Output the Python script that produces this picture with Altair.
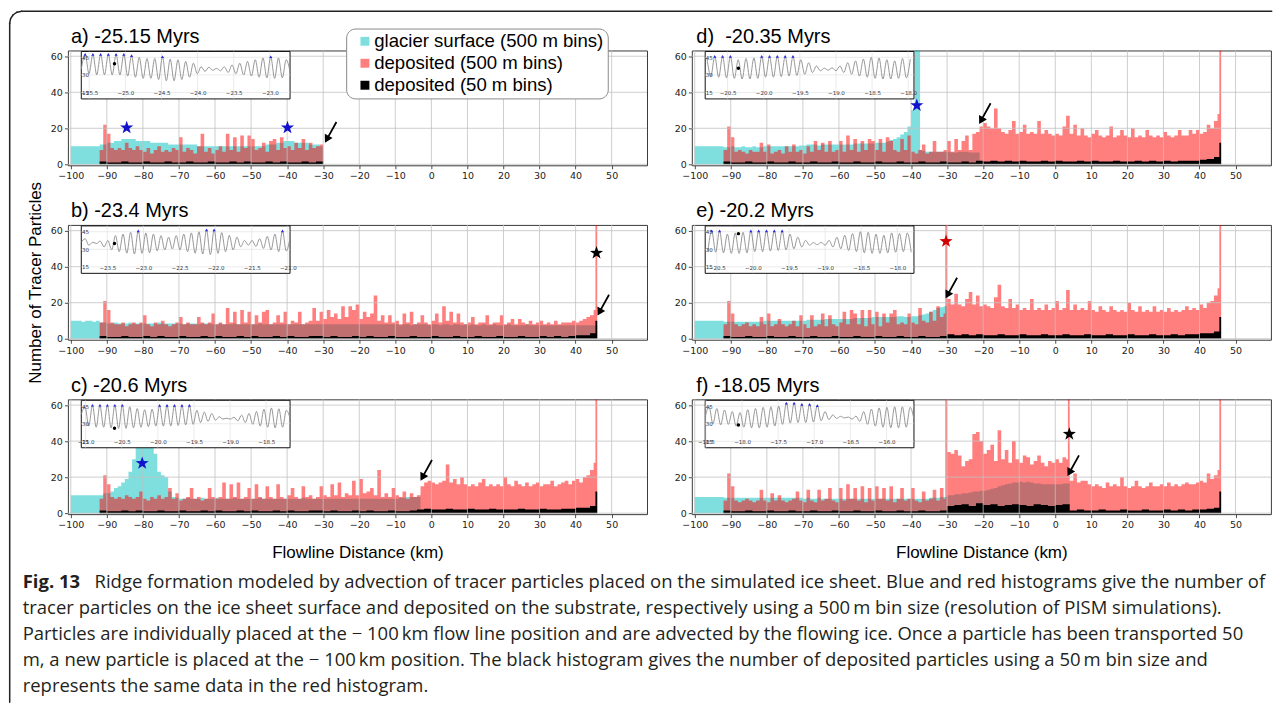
import math
import altair as alt
import pandas as pd

# ---------------------------------------------------------------- data
PANEL_LABELS = ["a) -25.15 Myrs", "b) -23.4 Myrs", "c) -20.6 Myrs",
                "d)\u00a0 -20.35 Myrs", "e) -20.2 Myrs", "f) -18.05 Myrs"]
PANEL_TIMES = [-25.15, -23.4, -20.6, -20.35, -20.2, -18.05]
SERIES = ["glacier surface (500 m bins)", "deposited (500 m bins)", "deposited (50 m bins)"]
DIST_TICKS = [-100, -90, -80, -70, -60, -50, -40, -30, -20, -10, 0, 10, 20, 30, 40, 50]
COUNT_TICKS = [0, 20, 40, 60]
INSET_Y_TICKS = [15, 30, 45]
INSET_TICKS = [
    [-25.5, -25.0, -24.5, -24.0, -23.5, -23.0],
    [-23.5, -23.0, -22.5, -22.0, -21.5, -21.0],
    [-21.0, -20.5, -20.0, -19.5, -19.0, -18.5],
    [-20.5, -20.0, -19.5, -19.0, -18.5, -18.0],
    [-20.5, -20.0, -19.5, -19.0, -18.5, -18.0],
    [-18.5, -18.0, -17.5, -17.0, -16.5, -16.0],
]

# glacier surface particles, 1 km bins starting at -100 km
surface_a = [10, 10, 10, 10, 10, 10, 10, 10,
             11, 11, 12, 12, 13, 13, 14, 14, 14, 14,
             13, 13, 13, 13, 12, 12, 12, 12, 12, 11,
             11, 11, 11, 11, 11, 11, 11, 10, 10, 10,
             10, 10, 10, 10, 10, 10, 10, 10, 10, 10,
             10, 10, 10, 10, 10, 10, 11, 11, 11, 12,
             12, 13, 13, 13, 12, 12, 12, 12, 11, 11, 11, 10]
surface_b = [10, 10, 10, 9.5, 10, 10, 9.5, 10,
             9, 9, 8.5, 8.5, 9, 8.5, 8.5, 8.5, 9, 8.5,
             8.5, 8.5, 8.5, 8.5, 8.5, 8.5, 9, 8.5, 8.5, 8.5,
             8.5, 8.5, 8.5, 8, 8.5, 8.5, 8.5, 8, 8.5, 8.5,
             8.5, 8, 8, 8.5, 8, 8, 8, 8.5, 8, 8,
             8, 8, 8, 8, 8.5, 8, 8, 8, 8, 8,
             8, 8, 8, 8, 8, 8, 8, 8, 8, 8,
             8, 8, 8, 8, 8, 8, 8, 8, 8, 8,
             8, 8, 8, 8, 8, 8, 8, 8, 8, 8,
             8, 8, 8, 7.5, 8, 8, 7.5, 8, 8, 8,
             8, 7.5, 8, 8, 7.5, 8, 8, 7.5, 8, 8,
             7.5, 8, 7.5, 8, 7.5, 7.5, 8, 7.5, 7.5, 8,
             7.5, 7.5, 7.5, 8, 7.5, 7.5, 7.5, 7.5, 8, 7.5,
             7.5, 7.5, 7.5, 7.5, 7.5, 7.5, 7.5, 7.5, 7.5, 7.5,
             7.5, 7.5, 7.5, 7.5, 7.5, 7.5, 7.5, 7.5]
surface_c = [10, 10, 10, 10, 10, 10, 10, 10,
             10, 11, 11, 12, 14, 15, 17, 19, 23, 30,
             38, 44, 48, 46, 40, 33, 23, 21, 20, 12,
             9, 8.5, 8, 8, 8.5, 8, 8, 8, 8.5, 8,
             8, 8, 8.5, 8, 8, 8, 8, 8.5, 8, 8,
             8, 8, 8, 8, 8.5, 8, 8, 8, 8, 8,
             8, 8, 8, 8, 8, 8, 8.5, 8, 8, 8,
             8, 8, 8, 8, 8, 8, 8, 8, 8, 8,
             8, 8, 8, 8, 8, 8, 8, 8, 8, 8,
             8, 8, 8, 8.5, 8.5, 9, 9, 9, 9]
surface_d = [10, 10, 10, 10, 10, 10, 10, 10,
             9.5, 9.5, 10, 9.5, 9.5, 10, 9.5, 9.5, 10, 9.5,
             9.5, 10, 10, 10, 10, 10, 10, 10, 10, 10,
             10, 10.5, 10.5, 11, 11, 11, 10.5, 11, 11, 11,
             11, 11, 11, 11, 11, 11, 11.5, 11.5, 11.5, 11.5,
             11.5, 11.5, 12, 12, 12, 12.5, 13.5, 14, 15, 16.5,
             18, 21, 30, 70, 8, 7.5, 7, 7, 7, 7,
             7, 7, 7, 6.5, 6.5, 7, 7, 7, 6.5, 6.5, 6.5]
surface_e = [10, 10, 10, 10, 10, 10, 10, 10,
             9.5, 9.5, 9.5, 9.5, 9.5, 9.5, 9.5, 9.5, 9.5, 9.5,
             9.5, 10, 10, 10, 10, 10, 10, 10, 10, 10,
             10, 10, 10, 10.5, 10.5, 10.5, 10.5, 10.5, 11, 11,
             11, 11, 11, 11, 11, 11, 11.5, 11.5, 11.5, 11.5,
             11.5, 12, 12, 12, 12, 12, 12, 12, 12.5, 12.5,
             12, 12, 12.5, 12.5, 13, 13.5, 14, 15, 16, 17, 17.5, 18]
surface_f = [9, 9, 9, 9, 9, 9, 9, 9,
             8.5, 8.5, 8.5, 8.5, 8.5, 8.5, 8.5, 8.5, 8.5, 8.5,
             8.5, 8.5, 8.5, 8.5, 8.5, 8.5, 8.5, 8.5, 8.5, 8.5,
             8.5, 8.5, 8, 8.5, 8, 8, 8.5, 8, 8, 8,
             8, 8, 8, 8, 8, 8, 8, 8, 8, 8,
             8, 8, 8, 8, 8, 8, 8, 8, 8, 8,
             8, 8, 8, 8, 8, 8, 8, 8.5, 8.5, 8.5, 9, 9,
             10, 10, 10.5, 10.5, 11, 11, 11.5, 12, 12, 12.5,
             12.5, 13, 13.5, 14, 15, 15.5, 16, 16.5, 17, 17,
             17.5, 17, 17.5, 17, 16.5, 16.5, 16, 16, 16, 16,
             16, 16, 16.5, 16.5]

# deposited particles, 1 km bins starting at -92 km
deposit_a = [8, 22, 17, 9, 8, 9, 8, 12, 9, 8,
             10, 8, 7, 9, 6, 8, 10, 7, 8, 7,
             9, 8, 15, 7, 9, 8, 6, 10, 17, 7,
             9, 6, 8, 10, 7, 17, 8, 15, 7, 16,
             9, 16, 14, 8, 9, 12, 7, 13, 14, 8,
             15, 9, 10, 8, 12, 9, 14, 8, 12, 9,
             10, 11]
deposit_b = [9, 21, 16, 9, 8, 8, 9, 7, 8, 9,
             8, 9, 13, 8, 7, 9, 8, 10, 8, 7,
             8, 9, 12, 8, 9, 8, 8, 12, 9, 8,
             9, 14, 8, 9, 8, 17, 9, 15, 8, 16,
             9, 15, 8, 13, 9, 15, 16, 8, 9, 13,
             9, 15, 8, 10, 9, 15, 8, 9, 10, 17,
             10, 15, 11, 16, 12, 14, 11, 18, 12, 18,
             16, 19, 11, 15, 12, 14, 24, 10, 13, 9,
             13, 9, 10, 8, 14, 9, 15, 8, 9, 13,
             9, 8, 10, 14, 9, 18, 10, 15, 9, 14,
             9, 8, 9, 12, 8, 9, 9, 13, 8, 9,
             9, 13, 8, 9, 11, 8, 11, 9, 8, 10,
             8, 9, 10, 8, 9, 8, 10, 8, 9, 9,
             9, 10, 9, 10, 11, 12, 13, 16]
deposit_c = [8, 21, 16, 9, 8, 9, 8, 10, 9, 8,
             9, 12, 8, 7, 9, 8, 10, 8, 9, 14,
             8, 11, 7, 8, 9, 14, 8, 9, 7, 8,
             14, 9, 8, 9, 17, 8, 16, 9, 17, 8,
             9, 14, 8, 16, 9, 8, 15, 9, 8, 16,
             9, 8, 10, 14, 9, 8, 15, 9, 10, 8,
             9, 15, 10, 9, 16, 10, 17, 9, 11, 10,
             18, 10, 19, 11, 12, 14, 10, 24, 9, 11,
             9, 14, 10, 9, 12, 8, 11, 9, 10, 15,
             17, 18, 17, 16, 17, 18, 27, 17, 19, 16,
             20, 16, 15, 16, 15, 17, 19, 15, 16, 15,
             16, 15, 20, 16, 15, 18, 16, 15, 17, 15,
             16, 17, 15, 16, 16, 18, 15, 16, 17, 18,
             16, 18, 19, 17, 20, 21, 24, 28]
deposit_d = [8, 21, 15, 7, 8, 7, 6, 8, 7, 7,
             12, 7, 11, 6, 7, 8, 6, 10, 7, 11,
             7, 8, 6, 10, 7, 13, 8, 12, 7, 13,
             7, 8, 13, 7, 16, 8, 14, 7, 13, 8,
             14, 13, 8, 14, 7, 15, 13, 8, 7, 14,
             8, 16, 7, 6, 8, 11, 6, 7, 13, 7,
             7, 8, 13, 7, 14, 8, 13, 16, 8, 17,
             18, 21, 23, 21, 20, 31, 20, 18, 17, 19,
             24, 17, 18, 22, 17, 18, 17, 24, 17, 19,
             17, 16, 17, 16, 21, 27, 17, 22, 16, 20,
             16, 15, 17, 19, 16, 15, 16, 21, 15, 16,
             19, 16, 15, 20, 15, 16, 15, 19, 16, 15,
             16, 15, 18, 16, 15, 16, 19, 16, 16, 19,
             17, 19, 17, 18, 22, 20, 24, 28]
deposit_e = [8, 21, 14, 8, 7, 8, 9, 7, 8, 7,
             12, 8, 14, 7, 8, 11, 8, 7, 8, 10,
             7, 13, 8, 6, 13, 7, 8, 14, 7, 13,
             8, 7, 9, 15, 8, 16, 14, 8, 16, 7,
             16, 8, 15, 7, 14, 9, 14, 16, 8, 9,
             8, 14, 9, 8, 17, 10, 9, 15, 10, 18,
             12, 14, 22, 19, 25, 19, 18, 22, 26, 19,
             24, 18, 19, 18, 17, 23, 30, 18, 17, 22,
             17, 19, 16, 17, 16, 22, 16, 17, 16, 19,
             16, 17, 21, 16, 17, 27, 16, 19, 16, 17,
             16, 21, 16, 15, 18, 16, 15, 18, 16, 15,
             16, 15, 20, 16, 15, 18, 15, 16, 15, 18,
             15, 16, 15, 17, 15, 16, 15, 16, 18, 16,
             17, 16, 19, 17, 20, 21, 24, 28]
deposit_f = [7, 22, 15, 7, 6, 7, 8, 7, 6, 7,
             13, 7, 6, 11, 7, 10, 7, 6, 7, 8,
             12, 7, 6, 13, 7, 6, 13, 7, 8, 14,
             7, 6, 14, 7, 16, 8, 14, 7, 15, 6,
             14, 7, 15, 8, 14, 7, 15, 6, 8, 14,
             7, 8, 14, 7, 6, 12, 7, 8, 13, 7,
             14, 8, 34, 33, 35, 32, 26, 29, 30, 44,
             45, 40, 33, 35, 38, 29, 46, 30, 35, 28,
             40, 30, 28, 32, 31, 27, 29, 32, 28, 26,
             29, 28, 30, 28, 31, 30, 18, 22, 17, 18,
             18, 16, 15, 16, 15, 14, 17, 15, 16, 15,
             20, 15, 14, 15, 18, 15, 14, 15, 17, 15,
             15, 16, 15, 17, 15, 16, 15, 16, 17, 16,
             16, 17, 18, 17, 22, 19, 21, 24]

# deposited particles (fine bins), summarised in 2 km steps from -92 km
fine_a = [1.5, 1, 1, 1.5, 1, 1, 1.5, 1, 1, 1.5, 1, 1, 1.5, 1, 1, 1.5,
          1, 1, 1.5, 1, 1.5, 1, 1, 1.5, 1, 1.5, 1, 1, 1.5, 1, 1.5]
fine_b = [1.5, 1, 1, 1.5, 1, 1, 1.5, 1, 1.5, 1,
          1, 1.5, 1, 1, 1.5, 1, 1.5, 1, 1, 1.5,
          1, 1.5, 1, 1, 1.5, 1, 1.5, 1, 1, 1.5,
          1.5, 1, 1.5, 1, 1, 1.5, 1, 1.5, 1, 1,
          1.5, 1, 1, 1.5, 1, 1, 1.5, 1, 1, 1.5,
          1, 1, 1.5, 1, 1, 1.5, 1, 1, 1.5, 1,
          1, 1.5, 1, 1.5, 1, 1.5, 2, 2, 3]
fine_c = [1.5, 1, 1, 1.5, 1, 1.5, 1, 1, 1.5, 1,
          1, 1.5, 1, 1, 1.5, 1, 1.5, 1, 1, 1.5,
          1, 1.5, 1, 1, 1.5, 1, 1.5, 1, 1, 1.5,
          1.5, 1, 1.5, 1, 1, 1.5, 1, 1.5, 1, 1,
          1.5, 1, 1, 1.5, 2, 2.5, 2, 2, 2.5, 2,
          2, 2.5, 2, 2, 2.5, 2, 2, 2, 2.5, 2,
          2, 2.5, 2, 2, 2.5, 2.5, 3, 3, 4]
fine_d = [1.5, 1, 1, 1.5, 1, 1, 1.5, 1, 1, 1.5,
          1, 1, 1.5, 1, 1, 1.5, 1, 1, 1.5, 1,
          1, 1.5, 1, 1, 1.5, 1, 1, 1.5, 1, 1,
          1.5, 1, 1, 1.5, 1, 2, 1.5, 2, 1.5, 2,
          1.5, 2, 1.5, 1.5, 2, 1.5, 2, 1.5, 1.5, 2,
          1.5, 2, 1.5, 1.5, 2, 1.5, 1.5, 2, 1.5, 2,
          1.5, 2, 1.5, 2, 2, 2, 2.5, 3, 4]
fine_e = [1.5, 1, 1, 1.5, 1, 1, 1.5, 1, 1, 1.5,
          1, 1, 1.5, 1, 1, 1.5, 1, 1, 1.5, 1,
          1, 1.5, 1, 1, 1.5, 1, 1, 1.5, 1, 1,
          1.5, 2.5, 2, 2.5, 2, 2.5, 2, 2, 2.5, 2,
          2, 2.5, 2, 2, 2.5, 2, 2, 2.5, 2, 2,
          2.5, 2, 2, 2.5, 2, 2, 2.5, 2, 2, 2.5,
          2, 2, 2.5, 2, 2.5, 2.5, 3, 3, 4]
fine_f = [1.5, 1, 1, 1.5, 1, 1, 1.5, 1, 1, 1.5,
          1, 1, 1.5, 1, 1, 1.5, 1, 1, 1.5, 1,
          1, 1.5, 1, 1, 1.5, 1, 1, 1.5, 1, 1,
          1.5, 4, 4.5, 5, 4, 5.5, 4.5, 5, 4, 4.5,
          5, 4.5, 4, 5, 4.5, 4, 4.5, 5, 1.5, 2,
          1.5, 1.5, 2, 1.5, 1.5, 2, 1.5, 1.5, 2, 1.5,
          1.5, 2, 1.5, 2, 1.5, 2, 2, 2.5, 3]

SURFACE = [surface_a, surface_b, surface_c, surface_d, surface_e, surface_f]
DEPOSIT = [deposit_a, deposit_b, deposit_c, deposit_d, deposit_e, deposit_f]
FINE = [fine_a, fine_b, fine_c, fine_d, fine_e, fine_f]

# single 500 m bins that stand out (start km, count)
SPIKES = [
    {},
    {"dep": [(45.5, 70)], "fine": [(45.5, 10)]},
    {"dep": [(45.5, 70)], "fine": [(45.5, 12)]},
    {"surf": [(-38.0, 70)], "dep": [(45.5, 70)], "fine": [(45.5, 12)]},
    {"dep": [(-30.5, 70), (45.5, 70)], "fine": [(45.5, 12)]},
    {"dep": [(-30.5, 70), (3.5, 70), (45.5, 70)], "fine": [(45.5, 12)]},
]

STAR_BLUE, STAR_RED, STAR_BLACK = "#1212cc", "#d00000", "#000000"
STARS = [
    [(-84.5, 20.3, STAR_BLUE), (-39.9, 20.3, STAR_BLUE)],
    [(45.8, 47.6, STAR_BLACK)],
    [(-80.2, 27.7, STAR_BLUE)],
    [(-38.4, 32.7, STAR_BLUE)],
    [(-30.3, 54.1, STAR_RED)],
    [(3.9, 43.9, STAR_BLACK)],
]
ARROWS = [(-27.8, 18.2), (47.8, 19.1), (-1.3, 24.2), (-19.4, 28.6), (-28.7, 28.6), (5.1, 26.8)]

# forcing curve shown in the insets: successive extrema (edge, peak, trough, ...)
inset_a = [35, 47.5, 31, 47.5, 30, 47.5, 30, 47.5, 30, 47.5, 30, 47.5, 29, 46.5, 28, 45, 27, 44,
           27, 44, 26, 45.5, 25, 43.5, 25, 43, 26, 41.5, 28, 40, 31, 37, 33, 36.5, 34, 35.5,
           33.5, 37, 32, 38.5, 31, 40, 30, 41.5, 29, 43, 28, 44.5, 27.5, 45.5, 27, 44.5,
           27.5, 43, 33]
inset_b = [36, 39, 33.5, 36, 35, 37, 32, 37.6, 29.5, 41.7, 28, 43, 26.7, 44.5, 26, 45.8, 26.5,
           44, 27, 43, 28.6, 41.7, 29.5, 40.4, 30.3, 41.7, 29.5, 43, 28, 44, 26.7, 45, 26,
           46.6, 25.4, 46.6, 26.5, 44.3, 28, 42, 29.5, 40.4, 32.2, 37.6, 33.5, 37.6, 32.5, 39,
           30.8, 41, 29.5, 43, 28, 45.8, 28.5, 40]
inset_c = [38, 44.5, 28, 45.8, 27, 45.8, 27, 45.8, 26.5, 45.8, 26, 45.8, 26, 44.5, 26.5, 43,
           27, 42, 27.5, 42.5, 28, 45.6, 28, 45.6, 28, 45.6, 28.5, 45.6, 29, 45.6, 29.5, 41.5,
           31, 40, 32, 38.8, 33, 36, 34, 34.7, 34, 35.5, 32.5, 37.4, 31, 38.8, 29.5, 40.5, 28,
           42.5, 27, 43.5, 26.5, 42.8, 27, 41.5, 35]
inset_de = [38, 44.5, 29, 45.8, 28, 45.8, 27.5, 45.8, 27, 43, 26.5, 44, 26.5, 44.5, 27, 45.8,
            28, 45.8, 28, 45.8, 28.5, 45.8, 29, 45.8, 29.5, 43, 30.5, 40.4, 32, 37.6, 33.5,
            35.7, 34, 36, 33.5, 37.6, 32, 40.4, 30.5, 42, 29, 43.5, 28, 45, 27, 44.5, 26.5, 43,
            26.5, 42, 27, 44, 27.5, 43.5, 28, 44, 27.5, 43, 34]
inset_f = [36, 44.5, 30, 43, 29, 41.7, 29.5, 40.4, 28, 39.5, 27, 42, 26.5, 43, 26.5, 44, 27,
           44.5, 28, 45, 29.5, 47.7, 30.5, 47.7, 31, 46.6, 31, 46.6, 31.5, 45.5, 32.5, 40.4,
           33.5, 37.6, 34.5, 36.3, 35, 35.7, 34, 36.5, 32, 40.4, 29.5, 42.5, 28, 43.5, 27, 44,
           26.5, 44.5, 26.5, 44.5, 27, 44, 34]
INSET_SEQ = [inset_a, inset_b, inset_c, inset_de, inset_de, inset_f]
INSET_SPAN = [(-25.61, -22.72), (-23.86, -20.97), (-21.06, -18.17),
              (-20.84, -17.70), (-20.84, -17.70), (-18.51, -15.62)]
INSET_DOT = [39.5, 34.9, 26.1, 35.7, 43.4, 28.9]
INSET_YLIM = (9.5, 50)
BLUE_MARK_LEVEL = 45.3

CAPTION_BOLD = "Fig. 13"
CAPTION_LINES = [
    "Ridge formation modeled by advection of tracer particles placed on the simulated ice sheet. Blue and red histograms give the number of",
    "tracer particles on the ice sheet surface and deposited on the substrate, respectively using a 500\u2009m bin size (resolution of PISM simulations).",
    "Particles are individually placed at the \u2212 100\u2009km flow line position and are advected by the flowing ice. Once a particle has been transported 50",
    "m, a new particle is placed at the \u2212 100\u2009km position. The black histogram gives the number of deposited particles using a 50\u2009m bin size and",
    "represents the same data in the red histogram.",
]

# ---------------------------------------------------------------- styling
W, H = 580, 115
X_DOMAIN = [-100.8, 59.8]
Y_DOMAIN = [-0.55, 63.2]
COLORS = ["rgba(0,191,191,0.5)", "rgba(255,0,0,0.5)", "#000000"]
TICK_FONT = "DejaVu Sans"
TXT_FONT = "Liberation Sans"

color_scale = alt.Scale(domain=SERIES, range=COLORS)

pts = []
for k in range(10):
    ang = math.radians(-90 + 36 * k)
    r = 1.0 if k % 2 == 0 else 0.4
    pts.append(f"{r * math.cos(ang):.3f},{r * math.sin(ang):.3f}")
STAR_SHAPE = "M" + " L".join(pts) + " Z"
ARROW_SHAPE = "M0.5,-0.9 L-0.33,0.6 M-0.03,0.62 L-0.5,0.9 L-0.51,0.35 Z"
one = pd.DataFrame({"o": [0]})


def steps(values, start, width, spikes):
    segs = []
    for k, v in enumerate(values):
        segs.append([round(start + k * width, 4), round(start + (k + 1) * width, 4), v])
    for xs, h in spikes:
        for j in range(len(segs)):
            a, b, v = segs[j]
            if a - 1e-6 <= xs < b - 1e-6:
                e = min(xs + 0.5, b)
                new = []
                if xs > a + 1e-6:
                    new.append([a, xs, v])
                new.append([xs, e, h])
                if e < b - 1e-6:
                    new.append([e, b, v])
                segs[j:j + 1] = new
                break
    xs_ = [s[0] for s in segs] + [segs[-1][1]]
    vs_ = [s[2] for s in segs] + [0]
    return xs_, vs_


def make_panel(p):
    xsc = alt.Scale(domain=X_DOMAIN, nice=False, zero=False)
    ysc = alt.Scale(domain=Y_DOMAIN, nice=False, zero=False)
    common = dict(grid=False, domain=False, ticks=True, tickSize=3.5, tickWidth=0.8,
                  tickColor="#222222", labelFont=TICK_FONT, labelFontSize=9.5,
                  labelColor="#222222", labelPadding=2, labelFlush=False, labelOverlap=False,
                  titleFont=TXT_FONT, titleFontSize=17, titleFontWeight="normal",
                  titleColor="#000000")
    if p in (2, 5):
        x_axis = alt.Axis(values=DIST_TICKS, title="Flowline Distance (km)", titleX=W / 2,
                          titleY=38, titleAlign="center", titleBaseline="middle", **common)
    else:
        x_axis = alt.Axis(values=DIST_TICKS, title=None, **common)
    if p == 1:
        y_axis = alt.Axis(values=COUNT_TICKS, title="Number of Tracer Particles", titleX=-32.3,
                          titleY=H / 2, titleAngle=270, titleAlign="center",
                          titleBaseline="middle", **common)
    else:
        y_axis = alt.Axis(values=COUNT_TICKS, title=None, **common)

    X = lambda f: alt.X(f, scale=xsc, axis=x_axis)
    Y = lambda f: alt.Y(f, scale=ysc, axis=y_axis, stack=None)

    sp = SPIKES[p]
    layers = []
    for key, vals, start, width, name in [
        ("surf", SURFACE[p], -100, 1, SERIES[0]),
        ("dep", DEPOSIT[p], -92, 1, SERIES[1]),
        ("fine", FINE[p], -92, 2, SERIES[2]),
    ]:
        xv, vv = steps(vals, start, width, sp.get(key, []))
        df = pd.DataFrame({"x": xv, "v": vv, "series": name})
        layers.append(
            alt.Chart(df).mark_area(interpolate="step-after", clip=True, opacity=1).encode(
                x=X("x:Q"), y=Y("v:Q"),
                color=alt.Color("series:N", scale=color_scale, title=None)))

    gx = alt.Chart(pd.DataFrame({"g": DIST_TICKS})).mark_rule(
        color="#c2c2c2", strokeWidth=0.8).encode(x=X("g:Q"))
    gy = alt.Chart(pd.DataFrame({"g": COUNT_TICKS})).mark_rule(
        color="#c2c2c2", strokeWidth=0.8).encode(y=Y("g:Q"))
    sdf = pd.DataFrame(STARS[p], columns=["x", "y", "c"])
    stars = alt.Chart(sdf).mark_point(shape=STAR_SHAPE, filled=True, size=190, opacity=1,
                                      strokeWidth=0).encode(
        x=X("x:Q"), y=Y("y:Q"), fill=alt.Fill("c:N", scale=None))
    adf = pd.DataFrame([ARROWS[p]], columns=["x", "y"])
    arrows = alt.Chart(adf).mark_point(shape=ARROW_SHAPE, filled=True, size=450, opacity=1,
                                       fill="#000000", stroke="#000000",
                                       strokeWidth=1.8).encode(x=X("x:Q"), y=Y("y:Q"))
    title = alt.Chart(one).mark_text(text=PANEL_LABELS[p], align="left", baseline="alphabetic",
                                     font=TXT_FONT, fontSize=20, color="#000000").encode(
        x=alt.value(3 if p < 3 else 4.5), y=alt.value(-7.5))
    main = alt.layer(*layers, gx, gy, stars, arrows, title)

    # inset
    t = PANEL_TIMES[p]
    wl, wr = round(t - 0.46, 3), round(t + 2.43, 3)
    isx = alt.Scale(domain=[wl, wr], range=[13.4, 222.5], nice=False, zero=False)
    isy = alt.Scale(domain=list(INSET_YLIM), range=[48.5, 1.0], nice=False, zero=False)
    icommon = dict(grid=False, domain=False, ticks=False, tickSize=0, labelFont=TICK_FONT,
                   labelFontSize=5.5, labelColor="#333333", labelPadding=1, labelFlush=False,
                   labelOverlap=False, title=None, zindex=1)
    ix_axis = alt.Axis(orient="bottom", offset=-75.5, values=INSET_TICKS[p], format=".1f", **icommon)
    iy_axis = alt.Axis(orient="left", offset=-21.5, values=INSET_Y_TICKS, format="d", **icommon)
    IX = lambda f: alt.X(f, scale=isx, axis=ix_axis)
    IY = lambda f: alt.Y(f, scale=isy, axis=iy_axis)

    box = alt.Chart(pd.DataFrame({"x0": [wl], "x1": [wr], "y0": [INSET_YLIM[0]],
                                  "y1": [INSET_YLIM[1]]})).mark_rect(
        fill="white", stroke="#111111", strokeWidth=1).encode(
        x=IX("x0:Q"), x2="x1:Q", y=IY("y0:Q"), y2="y1:Q")
    igx = alt.Chart(pd.DataFrame({"g": INSET_TICKS[p], "y0": INSET_YLIM[0],
                                  "y1": INSET_YLIM[1]})).mark_rule(
        color="#dddddd", strokeWidth=0.6).encode(x=IX("g:Q"), y=IY("y0:Q"), y2="y1:Q")
    igy = alt.Chart(pd.DataFrame({"g": INSET_Y_TICKS, "x0": wl, "x1": wr})).mark_rule(
        color="#dddddd", strokeWidth=0.6).encode(y=IY("g:Q"), x=IX("x0:Q"), x2="x1:Q")

    seq = INSET_SEQ[p]
    s0, s1 = INSET_SPAN[p]
    n = len(seq)
    ldf = pd.DataFrame({"t": [s0 + (s1 - s0) * k / (n - 1) for k in range(n)], "v": seq})
    ldf = ldf[(ldf["t"] >= wl - 1e-6) & (ldf["t"] <= wr + 1e-6)]
    line = alt.Chart(ldf).mark_line(color="#8c8c8c", strokeWidth=0.9,
                                    interpolate="monotone").encode(x=IX("t:Q"), y=IY("v:Q"))
    tri = alt.Chart(ldf[ldf["v"] >= BLUE_MARK_LEVEL]).mark_point(
        shape="triangle-up", filled=True, size=10, opacity=1, color="#2a2ae0").encode(
        x=IX("t:Q"), y=IY("v:Q"))
    dot = alt.Chart(pd.DataFrame({"t": [t], "v": [INSET_DOT[p]]})).mark_point(
        shape="circle", filled=True, size=12, opacity=1, color="#000000").encode(
        x=IX("t:Q"), y=IY("v:Q"))
    inset = alt.layer(box, igx, igy, line, tri, dot)

    return alt.layer(main, inset).resolve_scale(x="independent", y="independent").properties(
        width=W, height=H)


panels = [make_panel(p) for p in range(6)]
ROW_GAP, COL_GAP = 59.7, 44.9

# caption block, placed in the grid cell below panel c (origin = left edge of left plots)
cap_top = 3 * H + 3 * ROW_GAP
top_rel = 49.3
cy = alt.Scale(domain=[0, 4], range=[582 - top_rel - cap_top, 686 - top_rel - cap_top])
cap_df = pd.DataFrame({"i": list(range(5)), "t": CAPTION_LINES})
CAP_X = 22 - 67.3
cap_font = dict(font="Open Sans", fontSize=18.5, color="#231f20", align="left", baseline="middle")
cap_bold = alt.Chart(pd.DataFrame({"i": [0], "t": [CAPTION_BOLD]})).mark_text(
    fontWeight="bold", **cap_font).encode(x=alt.value(CAP_X), y=alt.Y("i:Q", scale=cy, axis=None),
                                         text="t:N")
cap_first = alt.Chart(cap_df[cap_df["i"] == 0]).mark_text(**cap_font).encode(
    x=alt.value(CAP_X + 72), y=alt.Y("i:Q", scale=cy, axis=None), text="t:N")
cap_rest = alt.Chart(cap_df[cap_df["i"] > 0]).mark_text(**cap_font).encode(
    x=alt.value(CAP_X), y=alt.Y("i:Q", scale=cy, axis=None), text="t:N")

# figure frame: top and left edges with a rounded top-left corner (decoration)
FR_RAD = 12
FR_L = 9 - 67.3
FR_T = 10 - top_rel - cap_top
FR_R = 1273 - 67.3
FR_B = 702 - top_rel - cap_top
frame_style = dict(color="#222222", strokeWidth=1.5, strokeCap="round")
frame_parts = [
    alt.Chart(one).mark_rule(**frame_style).encode(
        x=alt.value(FR_L + FR_RAD), x2=alt.value(FR_R), y=alt.value(FR_T)),
    alt.Chart(one).mark_rule(**frame_style).encode(
        x=alt.value(FR_L), y=alt.value(FR_T + FR_RAD), y2=alt.value(FR_B)),
]
corner = [(0, 12), (0.91, 7.41), (3.51, 3.51), (7.41, 0.91), (12, 0)]
for (ax_, ay_), (bx_, by_) in zip(corner[:-1], corner[1:]):
    frame_parts.append(alt.Chart(one).mark_rule(**frame_style).encode(
        x=alt.value(FR_L + ax_), x2=alt.value(FR_L + bx_),
        y=alt.value(FR_T + ay_), y2=alt.value(FR_T + by_)))

caption = alt.layer(cap_bold, cap_first, cap_rest, *frame_parts).properties(
    width=W, height=100, view=alt.ViewBackground(stroke="transparent"))

chart = alt.concat(panels[0], panels[3], panels[1], panels[4], panels[2], panels[5], caption,
                   columns=2, spacing={"row": ROW_GAP, "column": COL_GAP}, bounds="flush").properties(
    padding={"left": 0, "top": 1, "right": 0, "bottom": 0}, background="white"
).configure_view(stroke="#3a3a3a", strokeWidth=1).configure_legend(
    orient="none", legendX=278.7, legendY=-22, fillColor="white", strokeColor="#8a8a8a",
    strokeWidth=1, cornerRadius=9, padding=3.5, rowPadding=3, labelFont=TXT_FONT,
    labelFontSize=18.6, labelColor="#000000", labelLimit=400, labelOffset=0,
    symbolOffset=6, symbolType="square", symbolSize=80, symbolStrokeWidth=0, symbolOpacity=1
)

chart.save("out.html", embed_options={"renderer": "svg", "actions": False})
